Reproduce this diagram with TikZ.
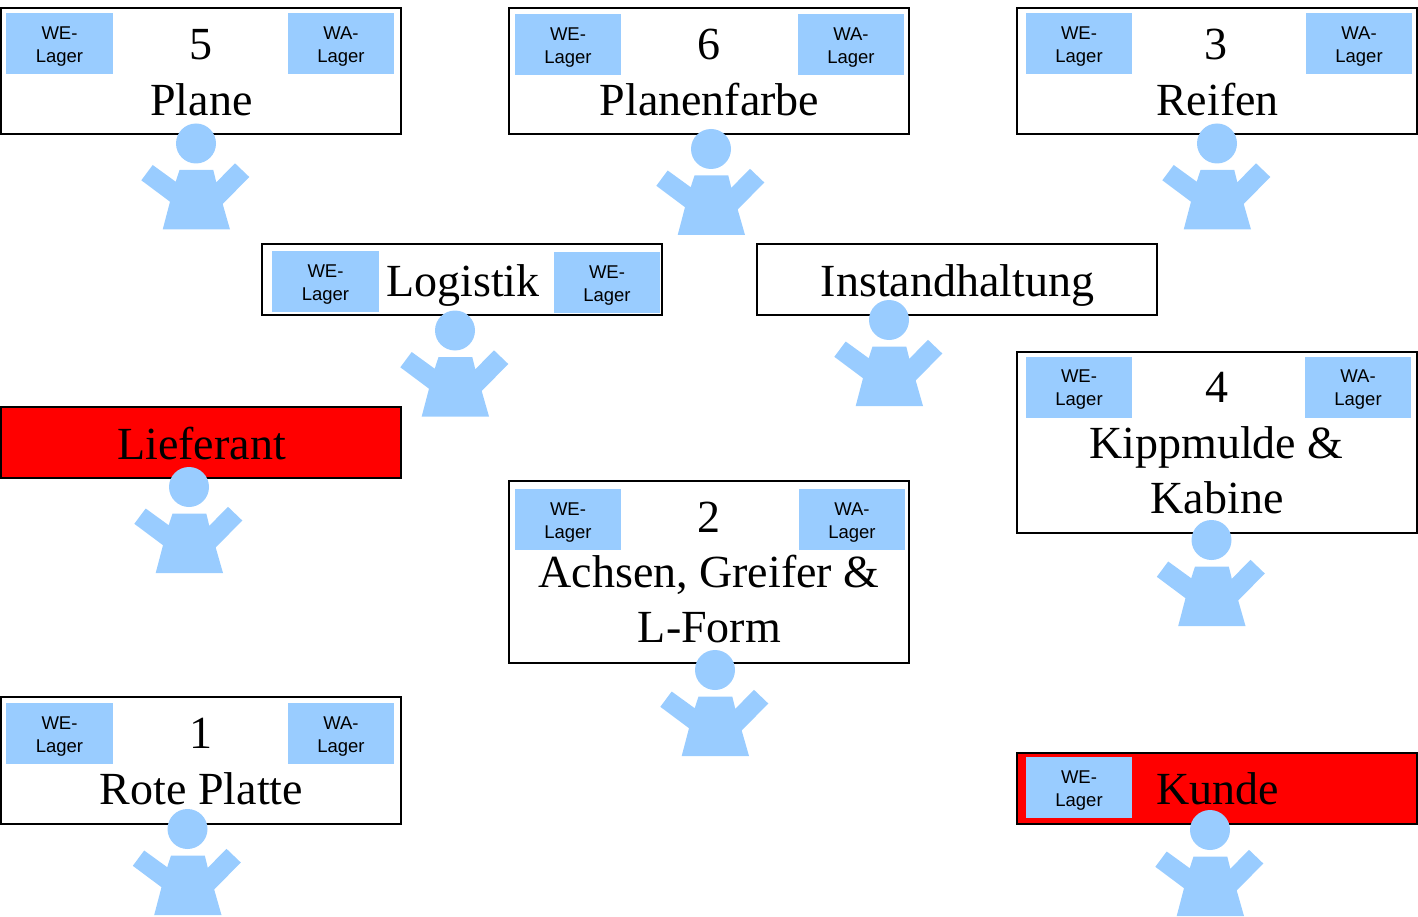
\documentclass[tikz,border=0pt]{standalone}
\usepackage{fontspec}
\setmainfont{Liberation Serif}
\newfontfamily\labelfont{Liberation Sans}
\definecolor{figblue}{RGB}{153,204,255}
\definecolor{figred}{RGB}{255,0,0}
\newcommand\lagerstrut{\rule{0pt}{18.3pt}}
\tikzset{
  panel/.style={draw=black,line width=2pt,fill=white,inner sep=0pt,minimum width=400pt},
  redpanel/.style={panel,fill=figred},
  store/.style={fill=figblue,inner sep=0pt,minimum width=106.5pt,minimum height=61pt,align=center,
    font=\labelfont\fontsize{18.5}{23}\selectfont},
  big/.style={anchor=base,inner sep=0pt,font=\fontsize{46}{55}\selectfont},
  person/.pic={
    \fill[figblue] (0,0) circle[radius=20];
    \fill[figblue] (-16.5,26.5) -- (17.3,26.5) -- (20.3,38.8) -- (39,19.8) -- (53.3,33.5)
      -- (26.7,60.5) -- (34,86) -- (-33.3,86) -- (-26,58.2) -- (-54.7,36.8) -- (-43.3,21.5)
      -- (-20.3,38.2) -- cycle;
  }
}
\begin{document}
\begin{tikzpicture}[x=1pt,y=-1pt]
\useasboundingbox (0,0) rectangle (1418,917);
% panels
\node[panel,minimum height=126pt] (plane) at (201,71) {};
\node[panel,minimum height=126pt] (farbe) at (709,71) {};
\node[panel,minimum height=126pt] (reifen) at (1217,71) {};
\node[panel,minimum height=71pt] (logistik) at (462,279.5) {};
\node[panel,minimum height=71pt] (instand) at (957,279.5) {};
\node[redpanel,minimum height=71pt] (lieferant) at (201,442.5) {};
\node[panel,minimum height=181pt] (kipp) at (1217,442.5) {};
\node[panel,minimum height=182pt] (achsen) at (709,572) {};
\node[panel,minimum height=127pt] (rote) at (201,760.5) {};
\node[redpanel,minimum height=71pt] (kunde) at (1217,788.5) {};
% stores
\node[store] (planeWE) at (59.5,43.5) {\lagerstrut WE-\\Lager};
\node[store] (planeWA) at (341,43.5) {\lagerstrut WA-\\Lager};
\node[store] (farbeWE) at (568,44.5) {\lagerstrut WE-\\Lager};
\node[store] (farbeWA) at (851,44.5) {\lagerstrut WA-\\Lager};
\node[store] (reifenWE) at (1079,43.5) {\lagerstrut WE-\\Lager};
\node[store] (reifenWA) at (1359,43.5) {\lagerstrut WA-\\Lager};
\node[store] (logistikWEa) at (325.5,281.5) {\lagerstrut WE-\\Lager};
\node[store] (logistikWEb) at (607,282.5) {\lagerstrut WE-\\Lager};
\node[store] (kippWE) at (1079,387) {\lagerstrut WE-\\Lager};
\node[store] (kippWA) at (1358,387) {\lagerstrut WA-\\Lager};
\node[store] (achsenWE) at (568,519.5) {\lagerstrut WE-\\Lager};
\node[store] (achsenWA) at (852,519.5) {\lagerstrut WA-\\Lager};
\node[store] (roteWE) at (59.5,733.5) {\lagerstrut WE-\\Lager};
\node[store] (roteWA) at (341,733.5) {\lagerstrut WA-\\Lager};
\node[store] (kundeWE) at (1079,787.5) {\lagerstrut WE-\\Lager};
% titles
\node[big] (t5) at (201,60) {5};
\node[big] (tplane) at (201.5,116) {Plane};
\node[big] (t6) at (709,60) {6};
\node[big] (tfarbe) at (709.5,116) {Planenfarbe};
\node[big] (t3) at (1216,60) {3};
\node[big] (treifen) at (1217.5,116) {Reifen};
\node[big] (tlog) at (463,296) {Logistik};
\node[big] (tinst) at (957.5,296) {Instandhaltung};
\node[big] (tlief) at (201.5,459) {Lieferant};
\node[big] (t4) at (1216.5,402.5) {4};
\node[big] (tkipp) at (1216.5,458) {Kippmulde \&};
\node[big] (tkab) at (1217,513) {Kabine};
\node[big] (t2) at (709,532) {2};
\node[big] (tach) at (709,587) {Achsen, Greifer \&};
\node[big] (tlf) at (709.5,642) {L-Form};
\node[big] (t1) at (201,748) {1};
\node[big] (trote) at (201.5,804) {Rote Platte};
\node[big] (tkunde) at (1217.5,804) {Kunde};
% people
\pic at (196,143.5) {person};
\pic at (711,149) {person};
\pic at (1217,143.5) {person};
\pic at (455,330.5) {person};
\pic at (889,320) {person};
\pic at (189,487) {person};
\pic at (1211.5,540) {person};
\pic at (715,670) {person};
\pic at (187.5,829) {person};
\pic at (1210,830) {person};
\end{tikzpicture}
\end{document}
